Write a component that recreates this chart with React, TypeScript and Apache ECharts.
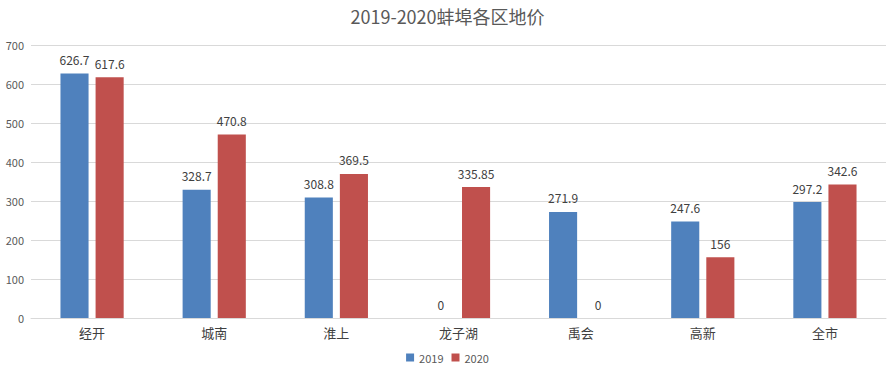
import React, { useEffect, useRef } from "react";
import * as echarts from "echarts";

const categories = ["经开", "城南", "淮上", "龙子湖", "禹会", "高新", "全市"];
const values2019 = [626.7, 328.7, 308.8, 0, 271.9, 247.6, 297.2];
const values2020 = [617.6, 470.8, 369.5, 335.85, 0, 156, 342.6];
const yTicks = { min: 0, max: 700, interval: 100 };

export default function App() {
  const ref = useRef<HTMLDivElement>(null);
  useEffect(() => {
    const chart = echarts.init(ref.current!, null, { renderer: "svg" });
    const font = "'Microsoft YaHei', 'Noto Sans CJK SC', 'Noto Sans', sans-serif";
    const labelCommon = {
      show: true,
      position: "top" as const,
      distance: 8,
      color: "#404040",
      fontSize: 12,
      fontFamily: font,
    };
    chart.setOption({
      animation: false,
      title: {
        text: "2019-2020蚌埠各区地价",
        left: "center",
        top: 2,
        textStyle: { color: "#595959", fontSize: 18, fontWeight: "normal", fontFamily: font },
      },
      legend: {
        bottom: 6,
        left: "center",
        itemWidth: 8,
        itemHeight: 8,
        itemGap: 8,
        icon: "rect",
        textStyle: { color: "#595959", fontSize: 11, fontFamily: font },
        data: ["2019", "2020"],
      },
      grid: { left: 31, right: 9, top: 45, bottom: 56, containLabel: false },
      xAxis: {
        type: "category",
        data: categories,
        axisLine: { lineStyle: { color: "#d9d9d9" } },
        axisTick: { show: false },
        axisLabel: { color: "#404040", fontSize: 13, fontFamily: font, margin: 8 },
      },
      yAxis: {
        type: "value",
        min: yTicks.min,
        max: yTicks.max,
        interval: yTicks.interval,
        axisLine: { show: false },
        axisTick: { show: false },
        splitLine: { lineStyle: { color: "#d9d9d9" } },
        axisLabel: { color: "#595959", fontSize: 11, fontFamily: font, margin: 7 },
      },
      series: [
        {
          name: "2019",
          type: "bar",
          data: values2019,
          barWidth: "23%",
          barGap: "25%",
          itemStyle: { color: "#4f81bd" },
          label: labelCommon,
        },
        {
          name: "2020",
          type: "bar",
          data: values2020,
          barWidth: "23%",
          itemStyle: { color: "#c0504d" },
          label: labelCommon,
        },
      ],
    });
    return () => chart.dispose();
  }, []);
  return (
    <div
      ref={ref}
      style={{ position: "absolute", left: 0, top: 0, width: 895, height: 374 }}
    />
  );
}
